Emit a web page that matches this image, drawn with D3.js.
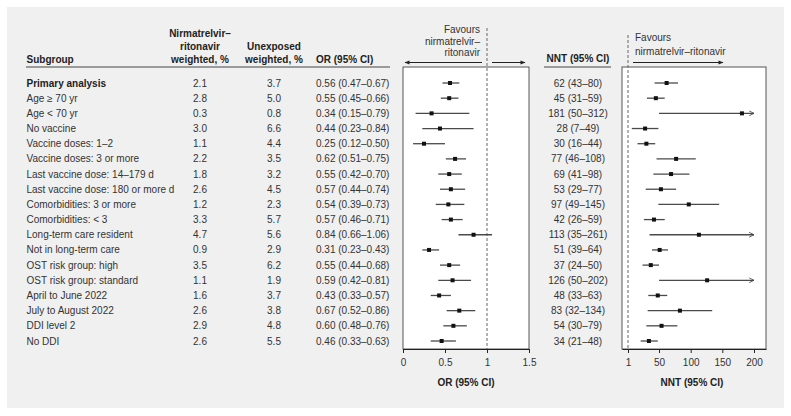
<!DOCTYPE html>
<html><head><meta charset="utf-8">
<script src="https://cdnjs.cloudflare.com/ajax/libs/d3/7.8.5/d3.min.js"></script>
<style>
body{margin:0;background:#fff;}
svg{display:block;font-family:"Liberation Sans",Arial,Helvetica,sans-serif;}
</style></head><body>
<svg id="c" width="791" height="416"></svg>
<script>
const subgroups = ["Primary analysis","Age \u2265 70 yr","Age < 70 yr","No vaccine","Vaccine doses: 1\u20132","Vaccine doses: 3 or more","Last vaccine dose: 14\u2013179 d","Last vaccine dose: 180 or more d","Comorbidities: 3 or more","Comorbidities: < 3","Long-term care resident","Not in long-term care","OST risk group: high","OST risk group: standard","April to June 2022","July to August 2022","DDI level 2","No DDI"];
const nirmWeighted = [2.1,2.8,0.3,3.0,1.1,2.2,1.8,2.6,1.2,3.3,4.7,0.9,3.5,1.1,1.6,2.6,2.9,2.6];
const unexpWeighted = [3.7,5.0,0.8,6.6,4.4,3.5,3.2,4.5,2.3,5.7,5.6,2.9,6.2,1.9,3.7,3.8,4.8,5.5];
const orEst  = [0.56,0.55,0.34,0.44,0.25,0.62,0.55,0.57,0.54,0.57,0.84,0.31,0.55,0.59,0.43,0.67,0.60,0.46];
const orLow  = [0.47,0.45,0.15,0.23,0.12,0.51,0.42,0.44,0.39,0.46,0.66,0.23,0.44,0.42,0.33,0.52,0.48,0.33];
const orHigh = [0.67,0.66,0.79,0.84,0.50,0.75,0.70,0.74,0.73,0.71,1.06,0.43,0.68,0.81,0.57,0.86,0.76,0.63];
const nntEst  = [62,45,181,28,30,77,69,53,97,42,113,51,37,126,48,83,54,34];
const nntLow  = [43,31,50,7,16,46,41,29,49,26,35,39,24,50,33,32,30,21];
const nntHigh = [80,59,312,49,44,108,98,77,145,59,261,64,50,202,63,134,79,48];
const orTicks = [0,0.5,1,1.5];
const nntTicks = [1,50,100,150,200];
const nntMaxShown = 200;

const svg = d3.select("#c");
const txt = "#333", lineC = "#4a4a4a";

// background panel
svg.append("rect").attr("x",7).attr("y",7).attr("width",777).attr("height",401).attr("fill","#f0f0f0");

const y = d3.scalePoint().domain(subgroups).range([83,341]);
const xOR = d3.scaleLinear().domain([0,1.5]).range([403,529]);
const xNNT = d3.scaleLinear().domain([-8.5,219]).range([622,766]);
const f1 = d3.format(".1f"), f2 = d3.format(".2f");

// table headers
const hdr = svg.append("g").attr("font-size",10).attr("font-weight","bold").attr("fill","#222");
hdr.append("text").attr("x",26.5).attr("y",62.5).text("Subgroup");
[["Nirmatrelvir\u2013",37],["ritonavir",49.5],["weighted, %",62.5]].forEach(([t,yy])=>hdr.append("text").attr("x",200).attr("y",yy).attr("text-anchor","middle").text(t));
[["Unexposed",49.5],["weighted, %",62.5]].forEach(([t,yy])=>hdr.append("text").attr("x",274).attr("y",yy).attr("text-anchor","middle").text(t));
hdr.append("text").attr("x",316).attr("y",62.5).text("OR (95% CI)");
hdr.append("text").attr("x",578).attr("y",61.5).attr("text-anchor","middle").text("NNT (95% CI)");
svg.append("line").attr("x1",26).attr("x2",390).attr("y1",67).attr("y2",67).attr("stroke","#444").attr("stroke-width",1);
svg.append("line").attr("x1",544).attr("x2",611).attr("y1",67).attr("y2",67).attr("stroke","#444").attr("stroke-width",1);

// table rows
const rows = svg.append("g").attr("font-size",10).attr("fill",txt);
subgroups.forEach((s,i)=>{
  const yy = y(s);
  rows.append("text").attr("x",26.5).attr("y",yy).attr("dy","0.35em").attr("font-weight",i===0?"bold":"normal").attr("fill",i===0?"#222":txt).text(s);
  rows.append("text").attr("x",200).attr("y",yy).attr("dy","0.35em").attr("text-anchor","middle").text(f1(nirmWeighted[i]));
  rows.append("text").attr("x",274).attr("y",yy).attr("dy","0.35em").attr("text-anchor","middle").text(f1(unexpWeighted[i]));
  rows.append("text").attr("x",316).attr("y",yy).attr("dy","0.35em").text(`${f2(orEst[i])} (${f2(orLow[i])}\u2013${f2(orHigh[i])})`);
  rows.append("text").attr("x",578).attr("y",yy).attr("dy","0.35em").attr("text-anchor","middle").text(`${nntEst[i]} (${nntLow[i]}\u2013${nntHigh[i]})`);
});

// markers
const defs = svg.append("defs");
defs.append("marker").attr("id","fill").attr("viewBox","0 0 10 10").attr("refX",9).attr("refY",5)
  .attr("markerWidth",7).attr("markerHeight",5).attr("markerUnits","userSpaceOnUse").attr("orient","auto-start-reverse")
  .append("path").attr("d","M0,1 L10,5 L0,9 Z").attr("fill","#222");
defs.append("marker").attr("id","open").attr("viewBox","0 0 10 10").attr("refX",9).attr("refY",5)
  .attr("markerWidth",6).attr("markerHeight",6).attr("markerUnits","userSpaceOnUse").attr("orient","auto")
  .append("path").attr("d","M1,1 L9,5 L1,9").attr("fill","none").attr("stroke",lineC).attr("stroke-width",1.4);

// OR panel
const orG = svg.append("g");
orG.append("rect").attr("x",403).attr("y",67).attr("width",126).attr("height",282).attr("fill","#fff").attr("stroke","#555").attr("stroke-width",1);
orG.append("line").attr("x1",xOR(1)).attr("x2",xOR(1)).attr("y1",28).attr("y2",349).attr("stroke","#666").attr("stroke-dasharray","3,2").attr("stroke-width",1);
orG.append("g").attr("transform","translate(0,349)").call(d3.axisBottom(xOR).tickValues(orTicks).tickFormat(d3.format("")).tickSize(4).tickSizeOuter(0))
  .call(g=>{g.select(".domain").attr("stroke","#222");g.selectAll(".tick line").attr("stroke","#222");g.selectAll("text").attr("font-size",10).attr("fill",txt).attr("font-family","Liberation Sans, Arial, sans-serif").attr("dy","0.95em");});
subgroups.forEach((s,i)=>{
  orG.append("line").attr("x1",xOR(orLow[i])).attr("x2",xOR(orHigh[i])).attr("y1",y(s)).attr("y2",y(s)).attr("stroke",lineC).attr("stroke-width",1.3);
  orG.append("rect").attr("x",xOR(orEst[i])-2).attr("y",y(s)-2).attr("width",4).attr("height",4).attr("fill","#111");
});
const favOR = svg.append("g").attr("font-size",10).attr("fill",txt).attr("text-anchor","end");
[["Favours",33],["nirmatrelvir\u2013",44.5],["ritonavir",56]].forEach(([t,yy])=>favOR.append("text").attr("x",480).attr("y",yy).text(t));
svg.append("line").attr("x1",482).attr("x2",405).attr("y1",62.5).attr("y2",62.5).attr("stroke","#222").attr("stroke-width",1).attr("marker-end","url(#fill)");
svg.append("line").attr("x1",492).attr("x2",525).attr("y1",62.5).attr("y2",62.5).attr("stroke","#222").attr("stroke-width",1).attr("marker-end","url(#fill)");
svg.append("text").attr("x",466).attr("y",386).attr("text-anchor","middle").attr("font-size",10).attr("font-weight","bold").attr("fill","#222").text("OR (95% CI)");

// NNT panel
const nG = svg.append("g");
nG.append("rect").attr("x",622).attr("y",67).attr("width",144).attr("height",282).attr("fill","#fff").attr("stroke","#555").attr("stroke-width",1);
nG.append("line").attr("x1",xNNT(1)).attr("x2",xNNT(1)).attr("y1",35).attr("y2",349).attr("stroke","#666").attr("stroke-dasharray","3,2").attr("stroke-width",1);
nG.append("g").attr("transform","translate(0,349)").call(d3.axisBottom(xNNT).tickValues(nntTicks).tickSize(4).tickSizeOuter(0))
  .call(g=>{g.select(".domain").attr("stroke","#222");g.selectAll(".tick line").attr("stroke","#222");g.selectAll("text").attr("font-size",10).attr("fill",txt).attr("font-family","Liberation Sans, Arial, sans-serif").attr("dy","0.95em");});
subgroups.forEach((s,i)=>{
  const clipped = nntHigh[i] > nntMaxShown;
  const hi = clipped ? nntMaxShown : nntHigh[i];
  const ln = nG.append("line").attr("x1",xNNT(nntLow[i])).attr("x2",xNNT(hi)).attr("y1",y(s)).attr("y2",y(s)).attr("stroke",lineC).attr("stroke-width",1.3);
  if (clipped) ln.attr("marker-end","url(#open)");
  nG.append("rect").attr("x",xNNT(nntEst[i])-2).attr("y",y(s)-2).attr("width",4).attr("height",4).attr("fill","#111");
});
const favN = svg.append("g").attr("font-size",10).attr("fill",txt);
[["Favours",41],["nirmatrelvir\u2013ritonavir",54.5]].forEach(([t,yy])=>favN.append("text").attr("x",635).attr("y",yy).text(t));
svg.append("line").attr("x1",633).attr("x2",723).attr("y1",62.5).attr("y2",62.5).attr("stroke","#222").attr("stroke-width",1).attr("marker-end","url(#fill)");
svg.append("text").attr("x",692).attr("y",386).attr("text-anchor","middle").attr("font-size",10).attr("font-weight","bold").attr("fill","#222").text("NNT (95% CI)");
</script>
</body></html>
